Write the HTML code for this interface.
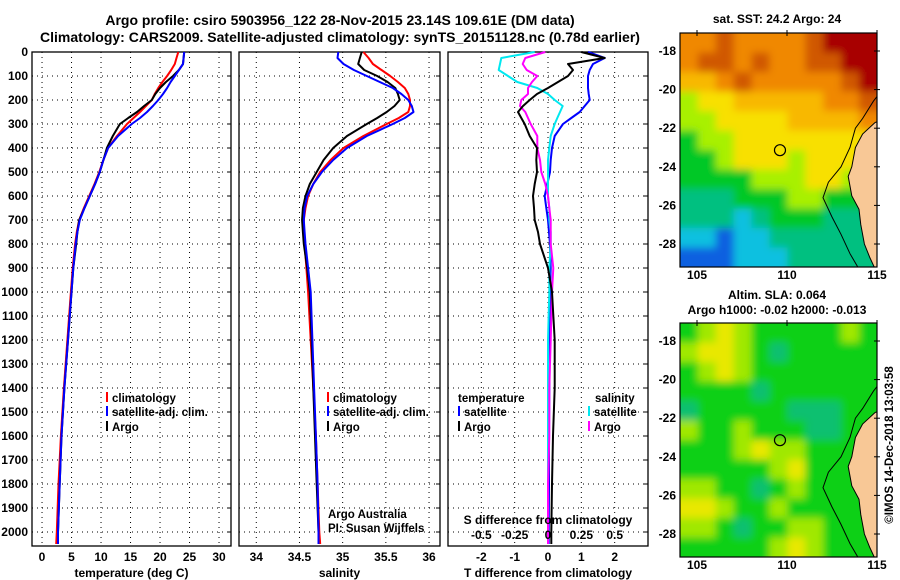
<!DOCTYPE html>
<html><head><meta charset="utf-8"><style>
html,body{margin:0;padding:0;background:#fff;}
svg{display:block;font-family:"Liberation Sans",sans-serif;}
.t{font-weight:bold;font-size:12px;fill:#000;}
.lg{font-weight:bold;font-size:11.5px;fill:#000;}
</style></head><body>
<svg id="c" width="900" height="580" viewBox="0 0 900 580">
<defs>
<filter id="blur" x="-5%" y="-5%" width="110%" height="110%"><feGaussianBlur stdDeviation="4"/></filter>
<clipPath id="clipTop"><rect x="680" y="33" width="197" height="234"/></clipPath>
<clipPath id="clipBot"><rect x="680" y="323" width="197" height="234"/></clipPath>
</defs>
<text x="340" y="25" text-anchor="middle" font-size="14" font-weight="bold">Argo profile: csiro 5903956_122 28-Nov-2015 23.14S 109.61E (DM data)</text>
<text x="340" y="42" text-anchor="middle" font-size="14" font-weight="bold">Climatology: CARS2009. Satellite-adjusted climatology: synTS_20151128.nc (0.78d earlier)</text>
<g id="g"></g>
</svg>
<script>
// ---- data ----
const depths   = [0,25,50,75,100,125,150,175,200,225,250,275,300,350,400,450,500,550,600,650,700,750,800,900,1000,1200,1400,1600,1800,2000,2050];
const tempArgo = [24.1,24.0,23.9,23.2,22.2,21.0,20.0,19.2,18.6,17.3,16.1,14.6,13.2,12.0,11.0,10.4,9.8,9.0,8.1,7.2,6.3,6.0,5.8,5.3,5.0,4.4,3.8,3.3,3.0,2.7,2.7];
const tempClim = [23.1,22.8,22.5,21.9,21.2,20.4,19.7,19.1,18.6,17.6,16.6,15.5,14.4,12.7,11.2,10.4,9.7,8.9,8.0,7.1,6.3,5.9,5.6,5.2,4.9,4.3,3.7,3.2,2.8,2.5,2.4];
const tempSat  = [24.1,24.0,23.9,23.2,22.5,21.8,21.2,20.5,19.7,18.8,17.8,16.6,15.2,12.9,11.2,10.4,9.8,9.0,8.1,7.2,6.4,6.0,5.7,5.3,5.0,4.4,3.8,3.3,3.0,2.7,2.7];
const salArgo  = [35.22,35.20,35.18,35.25,35.40,35.52,35.61,35.64,35.66,35.60,35.51,35.40,35.28,35.05,34.89,34.78,34.70,34.62,34.57,34.54,34.53,34.54,34.55,34.59,34.62,34.64,34.66,34.68,34.70,34.72,34.72];
const salClim  = [35.24,35.30,35.35,35.45,35.55,35.64,35.72,35.76,35.78,35.78,35.76,35.65,35.51,35.24,35.01,34.86,34.74,34.66,34.60,34.57,34.55,34.55,34.56,34.58,34.60,34.63,34.66,34.69,34.71,34.73,34.74];
const salSat   = [34.95,34.94,35.01,35.13,35.28,35.43,35.58,35.68,35.76,35.80,35.82,35.72,35.58,35.28,35.05,34.89,34.76,34.66,34.59,34.56,34.55,34.56,34.57,34.60,34.63,34.65,34.67,34.69,34.71,34.72,34.72];
const dTArgo   = [1.0,1.7,0.6,0.75,0.6,0.3,0.0,-0.33,-0.55,-0.75,-0.9,-0.8,-0.7,-0.55,-0.33,-0.35,-0.33,-0.4,-0.45,-0.42,-0.4,-0.3,-0.24,0.0,0.12,0.2,0.2,0.15,0.12,0.1,0.1];
const dTSat    = [1.2,1.7,1.35,1.25,1.2,1.2,1.2,1.22,1.25,1.1,0.95,0.7,0.45,0.2,0.12,0.08,0.06,-0.02,-0.1,-0.05,0.0,0.03,0.06,0.08,0.06,0.05,0.04,0.03,0.03,0.02,0.02];
const dSArgo   = [-0.02,-0.17,-0.19,-0.16,-0.08,-0.12,-0.15,-0.15,-0.2,-0.21,-0.17,-0.15,-0.13,-0.08,-0.08,-0.06,-0.05,-0.02,0.0,0.01,0.02,0.02,0.02,0.04,0.03,0.02,0.01,0.01,0.0,0.0,0.0];
const dSSat    = [-0.1,-0.35,-0.36,-0.37,-0.3,-0.23,-0.08,0.0,0.05,0.11,0.09,0.07,0.05,0.02,0.01,0.0,0.0,0.0,0.0,0.01,0.01,0.02,0.02,0.01,0.01,0.0,0.0,0.0,0.0,0.0,0.0];
const depthTicks = [0,100,200,300,400,500,600,700,800,900,1000,1100,1200,1300,1400,1500,1600,1700,1800,1900,2000];
const tempTicks = [0,5,10,15,20,25,30];
const salTicks = [34,34.5,35,35.5,36];
const dTTicks = [-2,-1,0,1,2];
const dSTicks = [-0.5,-0.25,0,0.25,0.5];
const sstGrid = [
[7,7,8,7,7,7,7,8,9,9,9],[7,8,8,7,8,7,7,8,8,9,9],[6,6,7,8,7,7,7,7,7,8,9],
[4,5,5,6,6,6,6,6,7,7,8],[4,4,5,5,5,5,6,6,6,6,7],[3,4,4,5,5,5,5,5,5,5,5],
[3,3,4,5,5,5,4,5,5,5,5],[3,3,3,3,4,4,4,5,5,4,4],[2,2,2,3,3,3,4,4,3,3,3],
[2,2,2,1,2,3,3,3,2,2,2],[1,1,0,1,1,2,2,2,2,2,2],[0,0,0,1,1,1,2,2,2,2,2]];
const slaGrid = [
[3,4,5,4,3,3,3,3,3,4,3],[4,5,5,4,3,2,3,3,3,3,3],[3,4,5,4,3,3,3,3,3,3,3],
[3,3,3,3,2,3,3,3,3,3,3],[2,3,3,3,3,3,2,2,2,3,3],[4,3,3,4,3,3,3,2,2,3,3],
[3,3,3,4,5,4,4,3,3,3,3],[3,3,3,3,3,4,5,3,3,3,3],[4,4,3,3,2,3,4,3,3,3,3],
[5,5,4,3,3,4,3,3,3,3,3],[4,4,3,2,3,3,4,4,3,3,3],[3,3,3,3,3,4,5,4,3,3,3]];
const latTicks = [-18,-20,-22,-24,-26,-28];
const lonTicks = [105,110,115];

const NS='http://www.w3.org/2000/svg';
const G=document.getElementById('g');
function mk(tag,attrs,parent){const e=document.createElementNS(NS,tag);for(const k in attrs)e.setAttribute(k,attrs[k]);(parent||G).appendChild(e);return e;}
function txt(x,y,s,cls,anchor,parent){const e=mk('text',{x:x,y:y,class:cls||'t','text-anchor':anchor||'middle'},parent);e.textContent=s;return e;}

const Y0=52,Y1=546;
const yD=d=>Y0+d*0.24;
const panels=[
 {name:'temperature-panel',x0:32,x1:231,lo:-1.7,hi:32.03,ticks:tempTicks,title:'temperature (deg C)'},
 {name:'salinity-panel',x0:239,x1:440,lo:33.80,hi:36.127,ticks:salTicks,title:'salinity'},
 {name:'difference-panel',x0:448,x1:648,lo:-3,hi:3,ticks:dTTicks,title:'T difference from climatology'}];
panels.forEach(p=>{p.sx=v=>p.x0+(v-p.lo)/(p.hi-p.lo)*(p.x1-p.x0);});

panels.forEach((p,pi)=>{
  const g=mk('g',{});
  
  
  p.ticks.forEach(v=>{const x=p.sx(v);
    const l=mk('line',{x1:x,x2:x,y1:Y0,y2:Y1,stroke:'#000','stroke-width':1,'stroke-dasharray':'1,4'},g);
    
    
    const t=txt(x,561,String(v),'t','middle',g);
    
    });
  depthTicks.forEach(d=>{ if(d===0) return; const y=yD(d);
    const l=mk('line',{x1:p.x0,x2:p.x1,y1:y,y2:y,stroke:'#000','stroke-width':1,'stroke-dasharray':'1,4'},g);
    
    
    mk('line',{x1:p.x1-4,x2:p.x1,y1:y,y2:y,stroke:'#000'},g);});
  const r=mk('rect',{x:p.x0,y:Y0,width:p.x1-p.x0,height:Y1-Y0,fill:'none',stroke:'#000','stroke-width':1.3},g);
  
  
  const tt=txt((p.x0+p.x1)/2,577,p.title,'t','middle',g);
  
  
});
depthTicks.forEach(d=>{const t=txt(28,yD(d)+4,String(d),'t','end');
  
  });

function series(p,vals,scale,color,name,w){
  const pts=vals.map((v,i)=>(p.sx(scale(v))).toFixed(1)+','+yD(depths[i]).toFixed(1)).join(' ');
  const e=mk('polyline',{points:pts,fill:'none',stroke:color,'stroke-width':w||2,'stroke-linejoin':'round'});
  
  
}
const id=v=>v, s4=v=>v*4;
const P1=panels[0],P2=panels[1],P3=panels[2];
series(P1,tempClim,id,'#ff0000','temp-climatology-line');
series(P1,tempArgo,id,'#000000','temp-argo-line');
series(P1,tempSat,id,'#0000ff','temp-satellite-line');
series(P2,salClim,id,'#ff0000','sal-climatology-line');
series(P2,salArgo,id,'#000000','sal-argo-line');
series(P2,salSat,id,'#0000ff','sal-satellite-line');
series(P3,dTSat,id,'#0000ff','dT-satellite-line');
series(P3,dSSat,s4,'#00e8f0','dS-satellite-line');
series(P3,dSArgo,s4,'#ff00ff','dS-argo-line');
series(P3,dTArgo,id,'#000000','dT-argo-line');

const st=txt(548,524,'S difference from climatology','t','middle');


dSTicks.forEach(v=>{const t=txt(P3.sx(v*4),539,String(v),'t','middle');
  
  });

function legend(x,y,color,label,name){
  const g=mk('g',{});
  
  
  mk('line',{x1:x,x2:x,y1:y-10,y2:y,stroke:color,'stroke-width':2},g);
  txt(x+5,y,label,'lg','start',g);
}
legend(107,402,'#ff0000','climatology','legend-climatology');
legend(107,416,'#0000ff','satellite-adj. clim.','legend-satellite');
legend(107,431,'#000','Argo','legend-argo');
legend(328,402,'#ff0000','climatology','legend-sal-climatology');
legend(328,416,'#0000ff','satellite-adj. clim.','legend-sal-satellite');
legend(328,431,'#000','Argo','legend-sal-argo');
{const t=txt(458,402,'temperature','lg','start');}
{const t=txt(595,402,'salinity','lg','start');}
legend(459,416,'#0000ff','satellite','legend-dT-satellite');
legend(459,431,'#000','Argo','legend-dT-argo');
legend(589,416,'#00e8f0','satellite','legend-dS-satellite');
legend(589,431,'#ff00ff','Argo','legend-dS-argo');
{const t=txt(328,518,'Argo Australia','lg','start');t.setAttribute('font-weight','normal');t.setAttribute('fill','#222');}
{const t=txt(328,532,'PI: Susan Wijffels','lg','start');t.setAttribute('font-weight','normal');t.setAttribute('fill','#222');}

// ---- maps ----
const sstPal=['#1060e0','#10c0e0','#00c080','#00c828','#a8f000','#f8e000','#f8b800','#f08800','#d05800','#a80000'];
const slaPal=['#10a0c0','#10b0a0','#10c070','#10d018','#a0e800','#e8e800'];
function map(top,grid,pal,name,clip){
  const L=680,R=877,T=top,B=top+234;
  const lx=lon=>697+(lon-105)*18, ly=lat=>T+18+(-18-lat)*19.3;
  const g=mk('g',{});
  
  
  const cg=mk('g',{'clip-path':'url(#'+clip+')'},g);
  const fg=mk('g',{filter:'url(#blur)'},cg);
  const cw=(R-L)/11,ch=(B-T)/12;
  grid.forEach((row,i)=>row.forEach((v,j)=>{
    let x=L+j*cw, w=cw+0.6, y=T+i*ch, h=ch+0.6;
    if(j===0){x-=10;w+=10;} if(j===10){w+=10;}
    if(i===0){y-=10;h+=10;} if(i===11){h+=10;}
    const c=mk('rect',{x:x.toFixed(1),y:y.toFixed(1),width:w.toFixed(1),height:h.toFixed(1),fill:pal[v]},fg);
    
    
  }));
  const land=[[115.3,-21.6],[114.9,-21.7],[114.2,-22.3],[113.8,-23.0],[113.6,-24.0],[113.4,-24.5],[113.6,-25.5],[114.0,-26.2],[114.1,-27.0],[114.3,-28.0],[114.6,-28.7],[114.9,-29.3],[115.3,-29.3]];
  const lp=mk('polygon',{points:land.map(p=>lx(p[0]).toFixed(1)+','+ly(p[1]).toFixed(1)).join(' '),fill:'#f8c896',stroke:'#000','stroke-width':1},cg);
  
  
  const iso=[[115.3,-20.0],[114.8,-20.6],[114.2,-21.5],[113.8,-22.0],[113.5,-23.0],[113.0,-24.0],[112.3,-24.8],[112.0,-25.6],[112.5,-26.6],[113.0,-27.5],[113.5,-28.5],[114.0,-29.3]];
  const il=mk('polyline',{points:iso.map(p=>lx(p[0]).toFixed(1)+','+ly(p[1]).toFixed(1)).join(' '),fill:'none',stroke:'#000','stroke-width':1},cg);
  
  
  const ci=mk('circle',{cx:lx(109.61),cy:ly(-23.14),r:5.5,fill:'none',stroke:'#000','stroke-width':1.2},g);
  
  
  mk('rect',{x:L,y:T,width:R-L,height:B-T,fill:'none',stroke:'#000','stroke-width':1.2},g);
  latTicks.forEach(la=>{const y=ly(la);mk('line',{x1:R-3,x2:R+3,y1:y,y2:y,stroke:'#000'},g);
    const t=txt(676,y+4,String(la),'t','end',g);});
  lonTicks.forEach(lo=>{const x=lx(lo);mk('line',{x1:x,x2:x,y1:T-3,y2:T+3,stroke:'#000'},g);
    const t=txt(x,B+12,String(lo),'t','middle',g);});
}
map(33,sstGrid,sstPal,'sst-map','clipTop');
map(323,slaGrid,slaPal,'sla-map','clipBot');
{const t=txt(777,23,'sat. SST: 24.2 Argo: 24','t','middle');}
{const t=txt(777,299,'Altim. SLA: 0.064','t','middle');}
{const t=txt(777,314,'Argo h1000: -0.02 h2000: -0.013','t','middle');}
{const t=txt(0,0,'©IMOS 14-Dec-2018 13:03:58','lg','middle');t.setAttribute('font-weight','normal');t.setAttribute('transform','translate(893,445) rotate(-90)');}
</script>
</body></html>
